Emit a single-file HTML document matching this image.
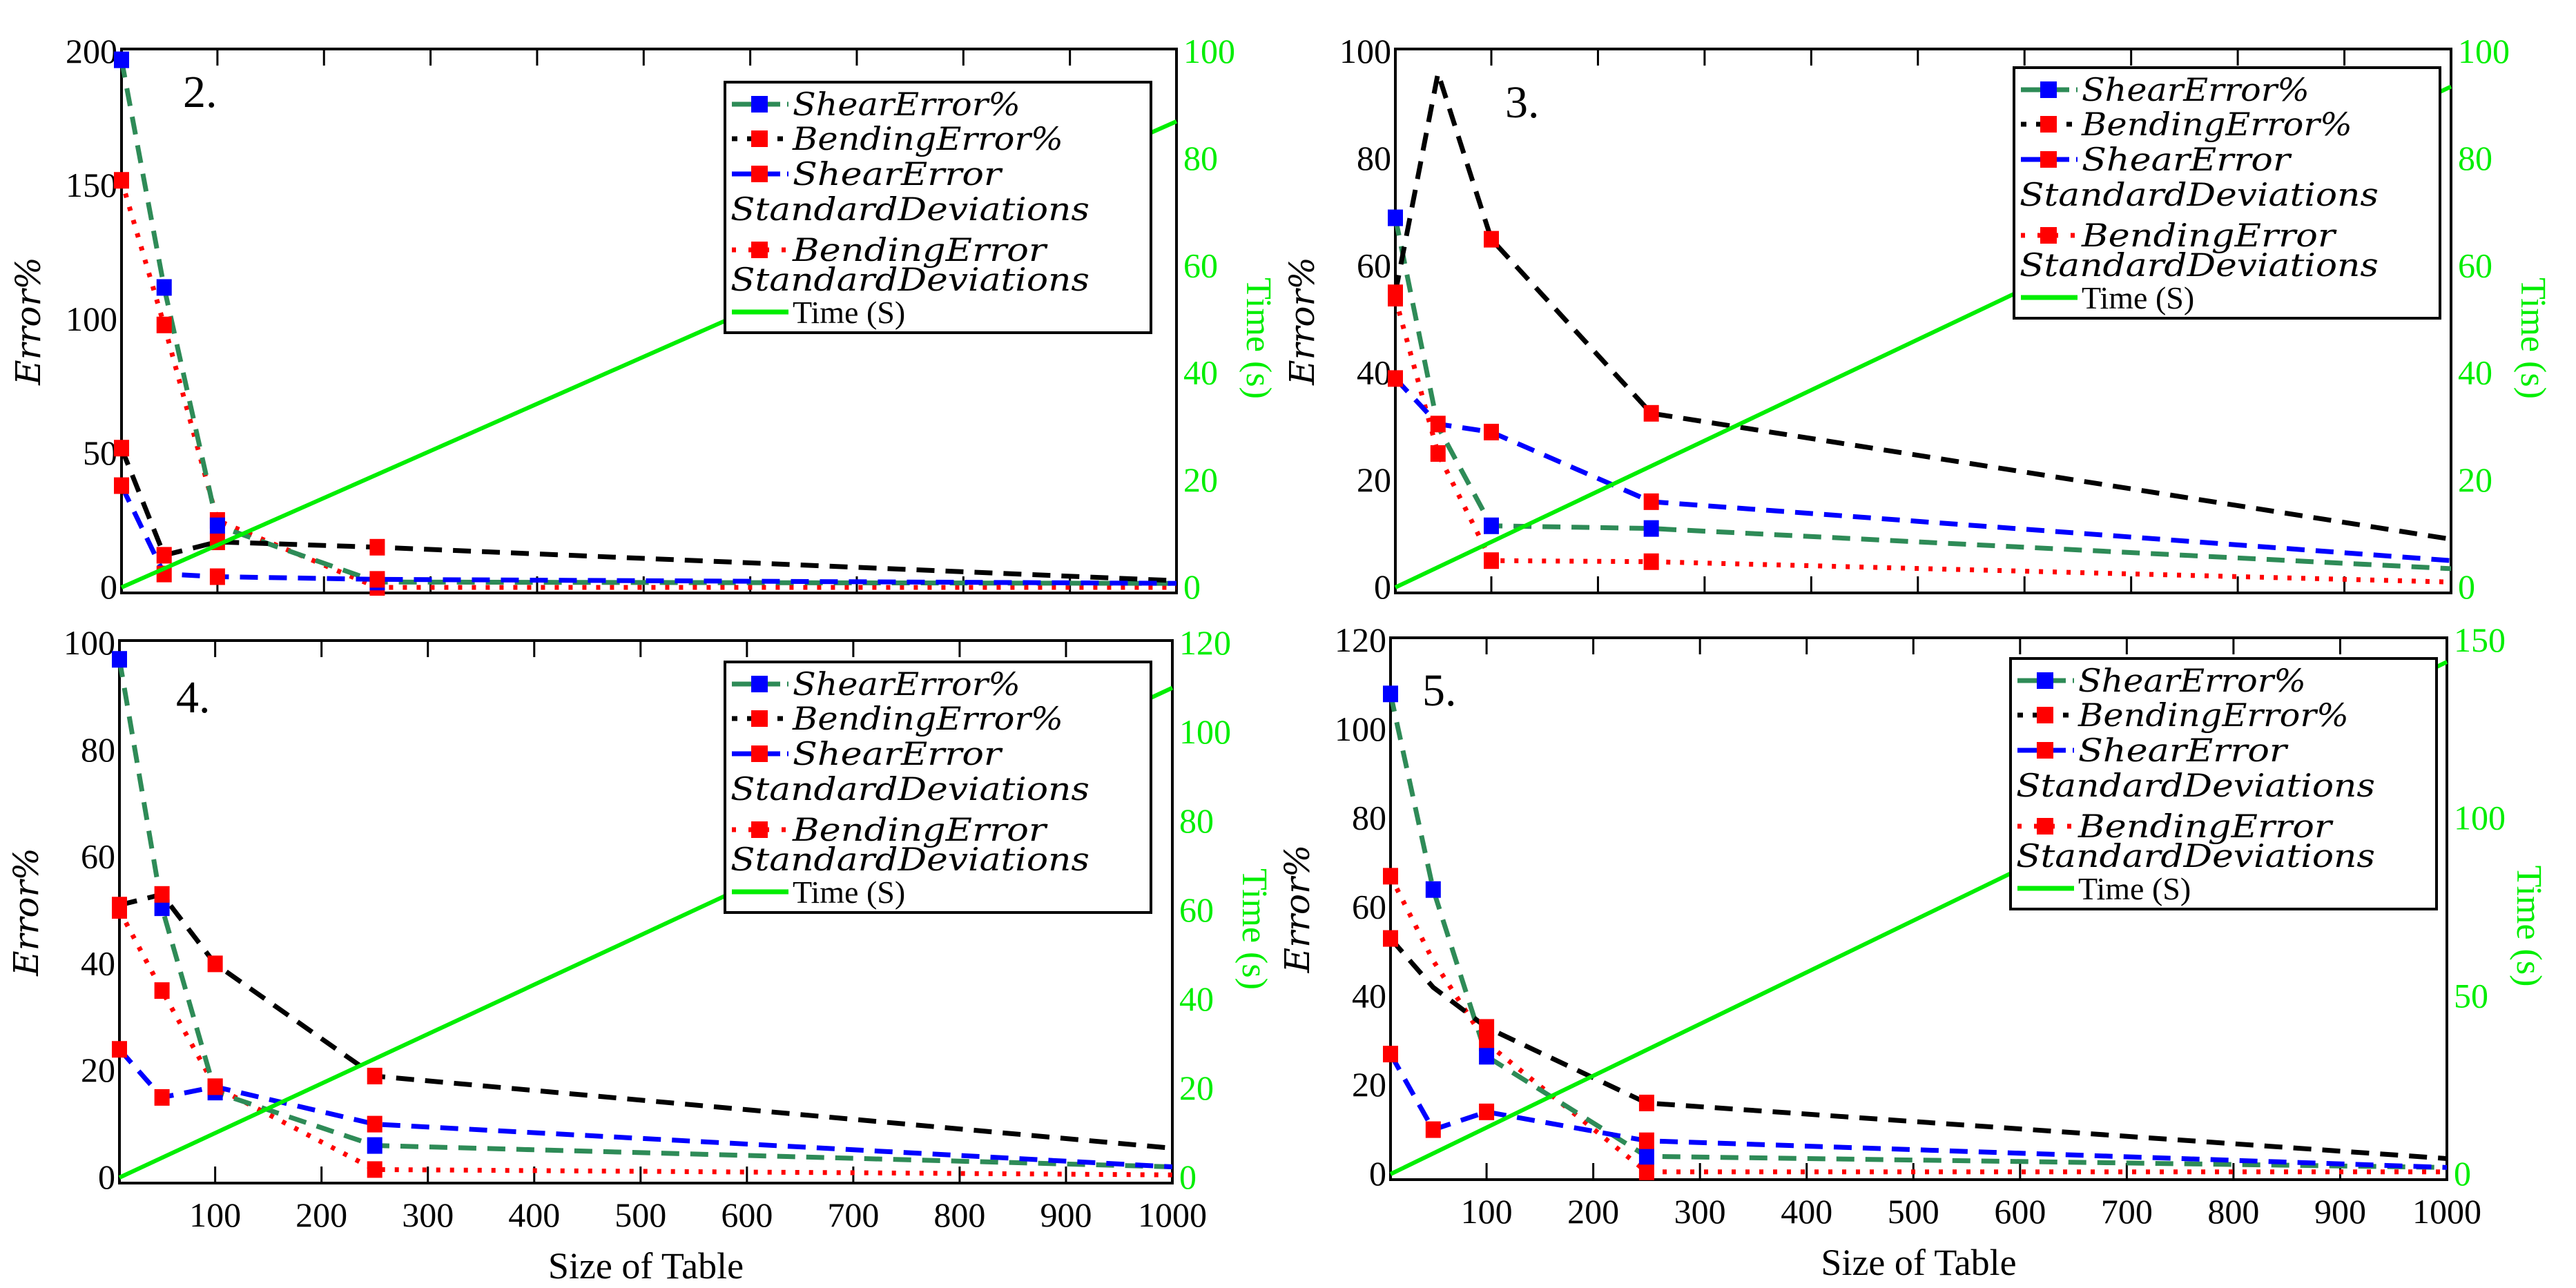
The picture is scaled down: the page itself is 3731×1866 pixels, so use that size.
<!DOCTYPE html>
<html><head><meta charset="utf-8"><style>
html,body{margin:0;padding:0;background:#fff;}
svg{display:block;}
text{font-family:"Liberation Serif",serif;}
</style></head>
<body>
<svg id="fig" width="3731" height="1866" viewBox="0 0 3731 1866" xmlns="http://www.w3.org/2000/svg" font-family="Liberation Serif, serif"></svg>
<script>
// shared x categories
const xValues = [10, 50, 100, 250, 1000];
const xTicks = [100,200,300,400,500,600,700,800,900,1000];

// Panel 2
const p2ShearErr = [197, 112, 23, 2, 1.5];
const p2BendErr = [52, 12, 17, 15, 2.5];
const p2ShearStd = [38, 5, 4, 3, 1.5];
const p2BendStd = [152, 98, 25, 0, 0];
const p2Time = [0, 87];
// Panel 3
const p3ShearErr = [69, 30, 11.5, 11, 3.5];
const p3BendErr = [55, 96, 65, 32.5, 9];
const p3ShearStd = [39, 30.5, 29, 16, 5];
const p3BendStd = [54, 25, 5, 4.8, 1];
const p3Time = [0, 93.5];
// Panel 4
const p4ShearErr = [97, 50.5, 16, 6, 2];
const p4BendErr = [51, 53, 40, 19, 5.5];
const p4ShearStd = [24, 15, 17, 10, 2];
const p4BendStd = [50, 35, 17, 1.5, 0.5];
const p4Time = [0, 110];
// Panel 5
const p5ShearErr = [108, 64, 26.5, 4, 1.5];
const p5BendErr = [53, 42, 33, 16, 3.5];
const p5ShearStd = [27, 10, 14, 7.5, 1.5];
const p5BendStd = [67, 48, 29.5, 0.5, 0.5];
const p5Time = [0, 144];

const leftTicks2 = [0,50,100,150,200];
const rightTicks2 = [0,20,40,60,80,100];
const leftTicks3 = [0,20,40,60,80,100];
const rightTicks3 = [0,20,40,60,80,100];
const leftTicks4 = [0,20,40,60,80,100];
const rightTicks4 = [0,20,40,60,80,100,120];
const leftTicks5 = [0,20,40,60,80,100,120];
const rightTicks5 = [0,50,100,150];

const NS = "http://www.w3.org/2000/svg";
const svg = document.getElementById('fig');
const FONT = '"Liberation Serif", serif';
const IFONT = '"DejaVu Serif", "Liberation Serif", serif';
function mk(tag, attrs, parent, txt){
  const e = document.createElementNS(NS, tag);
  for (const k in attrs) e.setAttribute(k, attrs[k]);
  if (tag === 'text') e.style.fontFamily = attrs['font-style']==='italic' ? IFONT : FONT;
  if (txt !== undefined) e.textContent = txt;
  (parent||svg).appendChild(e);
  return e;
}

const panels = [
  {id:'2', x0:176, x1:1704, y0:71, y1:859, lmax:200, rmax:100, lt:leftTicks2, rt:rightTicks2,
   se:p2ShearErr, be:p2BendErr, ss:p2ShearStd, bs:p2BendStd, tm:p2Time, legX:1050, legY:119, numX:265, numY:155, xlab:false, skip:[]},
  {id:'3', x0:2021, x1:3550, y0:71, y1:859, lmax:100, rmax:100, lt:leftTicks3, rt:rightTicks3,
   se:p3ShearErr, be:p3BendErr, ss:p3ShearStd, bs:p3BendStd, tm:p3Time, legX:2917, legY:98, numX:2180, numY:170, xlab:false, skip:['be1','se1']},
  {id:'4', x0:173, x1:1698, y0:928, y1:1714, lmax:100, rmax:120, lt:leftTicks4, rt:rightTicks4,
   se:p4ShearErr, be:p4BendErr, ss:p4ShearStd, bs:p4BendStd, tm:p4Time, legX:1050, legY:959, numX:255, numY:1032, xlab:true, skip:[]},
  {id:'5', x0:2014, x1:3544, y0:924, y1:1709, lmax:120, rmax:150, lt:leftTicks5, rt:rightTicks5,
   se:p5ShearErr, be:p5BendErr, ss:p5ShearStd, bs:p5BendStd, tm:p5Time, legX:2912, legY:954, numX:2060, numY:1022, xlab:true, skip:['be1','bs1']}
];

const GREEN='#2e8b57', TIME='#00ee00';

panels.forEach(p=>{
  const g = mk('g',{});
  
  
  const zeroY = p.y1 - 8;
  const sx = v => p.x0 + (v-10)/(990)*(p.x1-p.x0);
  const syL = v => zeroY - v/p.lmax*(zeroY - p.y0 - 4);
  const syR = v => zeroY - v/p.rmax*(zeroY - p.y0 - 4);

  const fr = mk('rect',{x:p.x0,y:p.y0,width:p.x1-p.x0,height:p.y1-p.y0,fill:'none',stroke:'#000','stroke-width':4},g);
  
  
  xTicks.forEach(t=>{
    const x = sx(t);
    mk('line',{x1:x,x2:x,y1:p.y0,y2:p.y0+24,stroke:'#000','stroke-width':3},g);
    mk('line',{x1:x,x2:x,y1:p.y1,y2:p.y1-24,stroke:'#000','stroke-width':3},g);
    if (p.xlab){
      const tl = mk('text',{x:x,y:p.y1+63,'font-size':50,'text-anchor':'middle'},g,String(t));
      
      
    }
  });
  p.lt.forEach(t=>{
    const tl = mk('text',{x:p.x0-6,y:syL(t)+16,'font-size':50,'text-anchor':'end'},g,String(t));
    
    
  });
  p.rt.forEach(t=>{
    const tl = mk('text',{x:p.x1+10,y:syR(t)+16,'font-size':50,'text-anchor':'start',fill:TIME},g,String(t));
    
    
  });
  const cy = (p.y0+p.y1)/2;
  const yt = mk('text',{x:0,y:0,'font-size':50,'font-style':'italic','text-anchor':'middle',transform:`translate(${p.x0-118},${cy}) rotate(-90)`},g,'Error%');
  
  
  const rt = mk('text',{x:0,y:0,'font-size':52,'text-anchor':'middle',fill:TIME,transform:`translate(${p.x1+102},${cy+25}) rotate(90)`},g,'Time (s)');
  
  
  if (p.xlab){
    const xt = mk('text',{x:(p.x0+p.x1)/2,y:p.y1+138,'font-size':54,'text-anchor':'middle'},g,'Size of Table');
    
    
  }
  const nm = mk('text',{x:p.numX,y:p.numY,'font-size':66},g,p.id+'.');
  
  

  const series = [
    {key:'bs', vals:p.bs, color:'red', dash:'6,14', w:7, name:'bending-std-line', mk:'red'},
    {key:'se', vals:p.se, color:GREEN, dash:'26,16', w:7, name:'shear-error-line', mk:'blue'},
    {key:'be', vals:p.be, color:'#000', dash:'26,16', w:7, name:'bending-error-line', mk:'red'},
    {key:'ss', vals:p.ss, color:'blue', dash:'26,16', w:7, name:'shear-std-line', mk:'red'}
  ];
  series.forEach(s=>{
    const pts = s.vals.map((v,i)=>sx(xValues[i])+','+syL(v)).join(' ');
    const pl = mk('polyline',{points:pts,fill:'none',stroke:s.color,'stroke-width':s.w,'stroke-dasharray':s.dash},g);
    
    
  });
  series.forEach(s=>{
    s.vals.forEach((v,i)=>{
      if (i===4) return;
      if (p.skip.indexOf(s.key+i) >= 0) return;
      const m = mk('rect',{x:sx(xValues[i])-11,y:syL(v)-12,width:22,height:24,fill:s.mk},g);
      
      
    });
  });
  const tl = mk('line',{x1:sx(10),y1:syR(p.tm[0]),x2:sx(1000),y2:syR(p.tm[1]),stroke:TIME,'stroke-width':6},g);
  
  

  const L = mk('g',{},g);
  
  
  const lx=p.legX, ly=p.legY;
  mk('rect',{x:lx,y:ly,width:617,height:363,fill:'#fff',stroke:'#000','stroke-width':4},L);
  const entries = [
    {dy:32, color:GREEN, dash:'30,10', mkc:'blue', t:'ShearError%', tl:330},
    {dy:82, color:'#000', dash:'8,14', mkc:'red', t:'BendingError%', tl:392},
    {dy:133, color:'blue', dash:'30,10', mkc:'red', t:'ShearError', tl:302},
    {dy:243, color:'red', dash:'6,18', mkc:'red', t:'BendingError', tl:367},
    {dy:333, color:TIME, dash:'', mkc:null, t:'Time (S)', tl:0}
  ];
  entries.forEach(e=>{
    const y = ly+e.dy;
    const ln = mk('line',{x1:lx+10,x2:lx+92,y1:y,y2:y,stroke:e.color,'stroke-width':7,'stroke-dasharray':e.dash},L);
    
    
    if (e.mkc){
      const m = mk('rect',{x:lx+38,y:y-12,width:24,height:24,fill:e.mkc},L);
      
      
    }
    const attrs = {x:lx+98,y:y+16,'font-size':46};
    if (e.tl){ attrs['font-style']='italic'; attrs.textLength=e.tl; attrs.lengthAdjust='spacingAndGlyphs'; }
    const tx = mk('text',attrs,L,e.t);
    
    
  });
  [184,286].forEach(dy=>{
    const tx = mk('text',{x:lx+8,y:ly+dy+16,'font-size':46,'font-style':'italic',textLength:520,lengthAdjust:'spacingAndGlyphs'},L,'StandardDeviations');
    
    
  });
});
</script>
</body></html>
